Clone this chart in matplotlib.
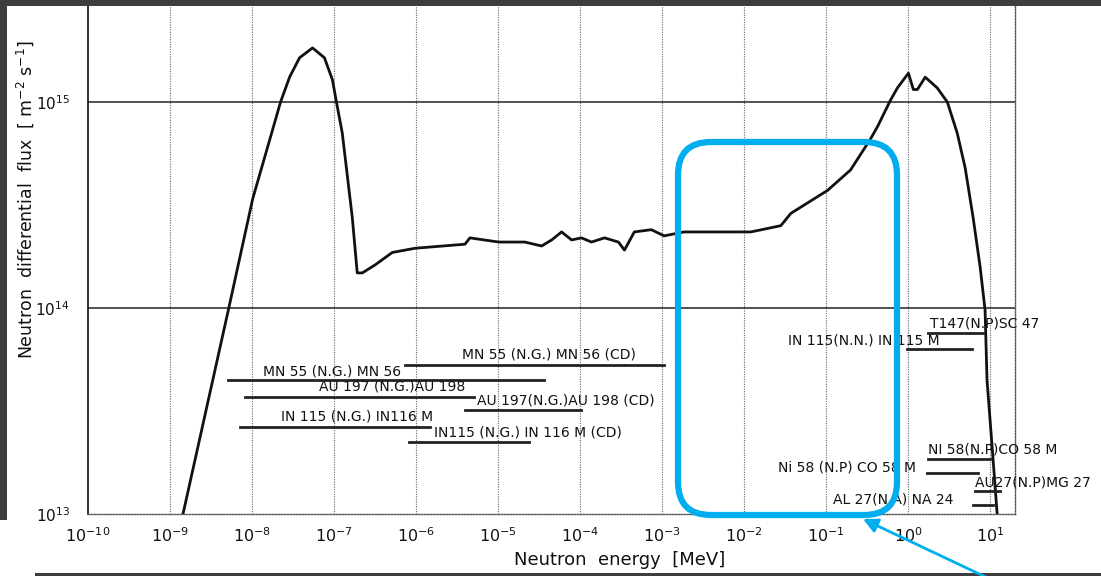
import numpy as np
import matplotlib
matplotlib.use("Agg")
import matplotlib.pyplot as plt
from matplotlib.patches import FancyBboxPatch, Rectangle
from matplotlib.ticker import NullLocator

# Reactor neutron spectrum (energy in MeV, flux in m^-2 s^-1)
energy = [1.44e-9, 5.21e-9, 1.02e-8, 2.23e-8, 2.87e-8, 3.80e-8, 5.47e-8,
          7.64e-8, 9.57e-8, 1.07e-7, 1.26e-7, 1.67e-7, 1.92e-7, 2.21e-7,
          3.18e-7, 5.13e-7, 9.75e-7, 3.95e-6, 4.54e-6, 1.02e-5, 2.12e-5,
          3.40e-5, 4.51e-5, 5.96e-5, 7.89e-5, 1.04e-4, 1.38e-4, 1.99e-4,
          2.94e-4, 3.48e-4, 4.59e-4, 7.40e-4, 1.06e-3, 1.86e-3, 4.82e-3,
          1.21e-2, 2.81e-2, 3.72e-2, 1.04e-1, 1.99e-1, 3.48e-1, 4.24e-1,
          6.10e-1, 7.41e-1, 1.01, 1.16, 1.30, 1.62, 2.27, 3.01, 3.97,
          4.97, 6.21, 7.57, 8.69, 9.18, 10.9, 12.2]
flux = [1.00e13, 1.00e14, 3.39e14, 1.00e15, 1.32e15, 1.64e15, 1.83e15,
        1.64e15, 1.28e15, 1.00e15, 7.08e14, 2.75e14, 1.48e14, 1.48e14,
        1.62e14, 1.86e14, 1.95e14, 2.04e14, 2.19e14, 2.09e14, 2.09e14,
        2.00e14, 2.14e14, 2.34e14, 2.14e14, 2.19e14, 2.09e14, 2.19e14,
        2.09e14, 1.91e14, 2.34e14, 2.40e14, 2.24e14, 2.34e14, 2.34e14,
        2.34e14, 2.51e14, 2.88e14, 3.72e14, 4.68e14, 6.61e14, 7.59e14,
        1.02e15, 1.17e15, 1.38e15, 1.15e15, 1.15e15, 1.32e15, 1.17e15,
        1.00e15, 7.08e14, 4.79e14, 2.75e14, 1.58e14, 9.77e13, 4.47e13,
        1.82e13, 1.00e13]

# Activation detector response ranges: name, lower / upper energy, row level
reactions = ["MN 55 (N.G.) MN 56", "MN 55 (N.G.) MN 56 (CD)",
             "AU 197 (N.G.)AU 198", "AU 197(N.G.)AU 198 (CD)",
             "IN 115 (N.G.) IN116 M", "IN115 (N.G.) IN 116 M (CD)",
             "IN 115(N.N.) IN 115 M", "T147(N.P)SC 47",
             "NI 58(N.P)CO 58 M", "Ni 58 (N.P) CO 58 M",
             "AU27(N.P)MG 27", "AL 27(N.A) NA 24"]
e_low = [5.1e-9, 7.4e-7, 8.1e-9, 3.95e-6, 7.1e-9, 8.2e-7,
         0.98, 1.77, 1.77, 1.72, 6.6, 6.2]
e_high = [3.6e-5, 1.06e-3, 5.1e-6, 1.04e-4, 1.48e-6, 2.37e-5,
          6.0, 8.2, 10.0, 7.1, 13.2, 10.9]
level = [4.47e13, 5.28e13, 3.70e13, 3.20e13, 2.64e13, 2.24e13,
         6.32e13, 7.57e13, 1.85e13, 1.58e13, 1.29e13, 1.11e13]

# label anchors (left edge, vertical centre) in data units
label_x = [1.35e-8, 3.63e-6, 6.65e-8, 5.52e-6, 2.23e-8, 1.66e-6,
           3.41e-2, 1.87, 1.77, 2.58e-2, 6.58, 0.120]
label_y = [4.94e13, 5.92e13, 4.14e13, 3.57e13, 2.96e13, 2.50e13,
           6.92e13, 8.45e13, 2.05e13, 1.69e13, 1.43e13, 1.17e13]

fig = plt.figure(figsize=(11.01, 5.76), dpi=100)
ax = fig.add_axes([88 / 1101, 62 / 576, 927 / 1101, 508 / 576])
ax.set_xscale("log")
ax.set_yscale("log")
ax.set_xlim(10 ** -9.96, 10 ** 1.304)
ax.set_ylim(1e13, 10 ** 15.466)

for k in range(-9, 2):
    ax.axvline(10.0 ** k, color="#666666", lw=0.8, ls=(0, (1, 1.2)), zorder=1)
for v in (1e14, 1e15):
    ax.axhline(v, color="#222222", lw=1.1, zorder=1)

ax.plot(energy, flux, color="#111111", lw=2.0, zorder=3)

for lo, hi, lv in zip(e_low, e_high, level):
    ax.plot([lo, hi], [lv, lv], color="#222222", lw=2.0, zorder=3)
for name, x, y in zip(reactions, label_x, label_y):
    ax.text(x, y, name, fontsize=10, ha="left", va="center", color="#111111",
            zorder=4)

xt = list(range(-10, 2))
ax.set_xticks([10.0 ** k for k in xt])
ax.set_xticklabels([f"$10^{{{k}}}$" for k in xt])
ax.set_yticks([1e13, 1e14, 1e15])
ax.set_yticklabels(["$10^{13}$", "$10^{14}$", "$10^{15}$"])
ax.xaxis.set_minor_locator(NullLocator())
ax.yaxis.set_minor_locator(NullLocator())
ax.tick_params(axis="x", length=0, pad=9, labelsize=11.5, colors="#111111")
ax.tick_params(axis="y", length=0, pad=13, labelsize=11, colors="#111111")

ax.spines["top"].set_visible(False)
ax.spines["left"].set_color("#111111")
ax.spines["left"].set_linewidth(1.2)
for s in ("bottom", "right"):
    ax.spines[s].set_color("#555555")
    ax.spines[s].set_linewidth(1.0)
    ax.spines[s].set_linestyle((0, (1, 1.2)))

fig.text(620 / 1101, 1 - 560 / 576, "Neutron  energy  [MeV]", fontsize=13,
         ha="center", va="center", color="#111111")
fig.text(25 / 1101, 1 - 200 / 576,
         "Neutron  differential  flux  [ m$^{-2}$ s$^{-1}$]", fontsize=12.5,
         rotation=90, ha="center", va="center", color="#111111")

# overlay in pixel units for the highlight box, arrow and scan edges
ov = fig.add_axes([0, 0, 1, 1], zorder=10)
ov.set_xlim(0, 1101)
ov.set_ylim(576, 0)
ov.axis("off")
ov.patch.set_alpha(0)

box = FancyBboxPatch((678, 142), 219, 373,
                     boxstyle="round,pad=0,rounding_size=33",
                     fc="none", ec="#00aeef", lw=4.5)
ov.add_patch(box)
ov.annotate("", xy=(863, 519), xytext=(992, 580), annotation_clip=False,
            arrowprops=dict(arrowstyle="-|>", color="#00aeef", lw=2.0,
                            mutation_scale=22, shrinkA=0, shrinkB=0))

ov.add_patch(Rectangle((0, 0), 1101, 6, color="#3e3e3e", lw=0))
ov.add_patch(Rectangle((0, 0), 7, 520, color="#3e3e3e", lw=0))
ov.add_patch(Rectangle((35, 573), 1066, 3, color="#3e3e3e", lw=0))

fig.savefig("out.png", dpi=100)
